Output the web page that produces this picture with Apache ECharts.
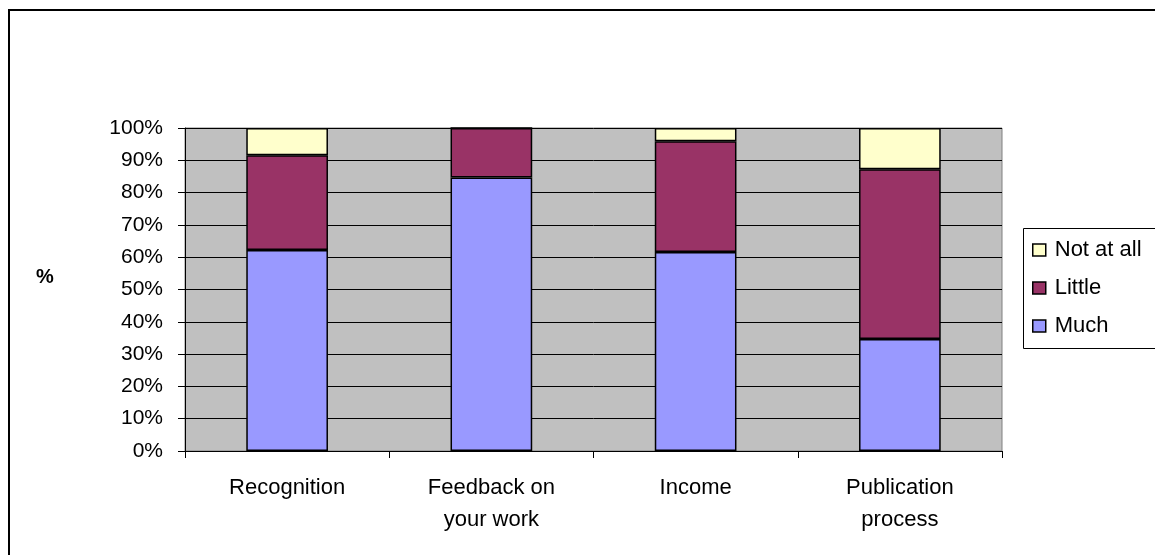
<!DOCTYPE html>
<html lang="en">
<head>
<meta charset="utf-8">
<title>Stacked bars</title>
<script src="https://cdn.jsdelivr.net/npm/echarts@6/dist/echarts.min.js"></script>
<style>
html,body{margin:0;padding:0;background:#fff;}
#main{width:1155px;height:555px;}
</style>
</head>
<body>
<div id="main"></div>
<script>
// categories and values (percent)
var categories = ['Recognition', 'Feedback on\nyour work', 'Income', 'Publication\nprocess'];
var much = [62.2, 84.7, 61.6, 34.7];
var little = [29.4, 15.3, 34.3, 52.5];
var notAtAll = [8.4, 0, 4.1, 12.8];
var legendOrder = ['Not at all', 'Little', 'Much'];

var font = 'Arial, "Liberation Sans", sans-serif';
var chart = echarts.init(document.getElementById('main'));

function bar(name, data, color) {
  return {
    name: name,
    type: 'bar',
    stack: 'all',
    data: data,
    barWidth: '40%',
    itemStyle: {color: color, borderColor: '#000', borderWidth: 1.5},
    emphasis: {disabled: true}
  };
}

chart.setOption({
  animation: false,
  textStyle: {fontFamily: font},
  grid: {
    left: 185, top: 128, width: 817, height: 323,
    show: true, backgroundColor: '#C0C0C0', borderColor: '#808080', borderWidth: 1
  },
  legend: {
    orient: 'vertical',
    left: 1027, top: 234,
    data: legendOrder,
    icon: 'rect',
    itemWidth: 13, itemHeight: 12,
    itemGap: 16,
    textStyle: {fontFamily: font, fontSize: 22, color: '#000', padding: [0, 0, 0, 4]},
    itemStyle: {borderColor: '#000', borderWidth: 1.5}
  },
  xAxis: {
    type: 'category',
    data: categories,
    axisLine: {lineStyle: {color: '#000', width: 1}},
    axisTick: {show: true, length: 7, lineStyle: {color: '#000'}},
    axisLabel: {color: '#000', fontSize: 22, margin: 21, lineHeight: 32, fontFamily: font, interval: 0}
  },
  yAxis: {
    type: 'value',
    min: 0, max: 100, interval: 10,
    axisLine: {show: true, lineStyle: {color: '#000', width: 1}},
    axisTick: {show: true, length: 7, lineStyle: {color: '#000'}},
    axisLabel: {formatter: '{value}%', color: '#000', fontSize: 21, margin: 22, fontFamily: font},
    splitLine: {lineStyle: {color: '#000', width: 1}}
  },
  series: [
    bar('Much', much, '#9999FF'),
    bar('Little', little, '#993366'),
    bar('Not at all', notAtAll, '#FFFFCC')
  ],
  graphic: [
    {type: 'rect', shape: {x: 9, y: 10, width: 1200, height: 600},
     style: {fill: 'none', stroke: '#000', lineWidth: 2}, silent: true},
    {type: 'rect', shape: {x: 1023.5, y: 228.5, width: 200, height: 120},
     style: {fill: 'none', stroke: '#000', lineWidth: 1}, silent: true},
    {type: 'text', left: 36, top: 267,
     style: {text: '%', fontSize: 20, fontWeight: 'bold', fill: '#000', fontFamily: font}}
  ]
});
</script>
</body>
</html>
